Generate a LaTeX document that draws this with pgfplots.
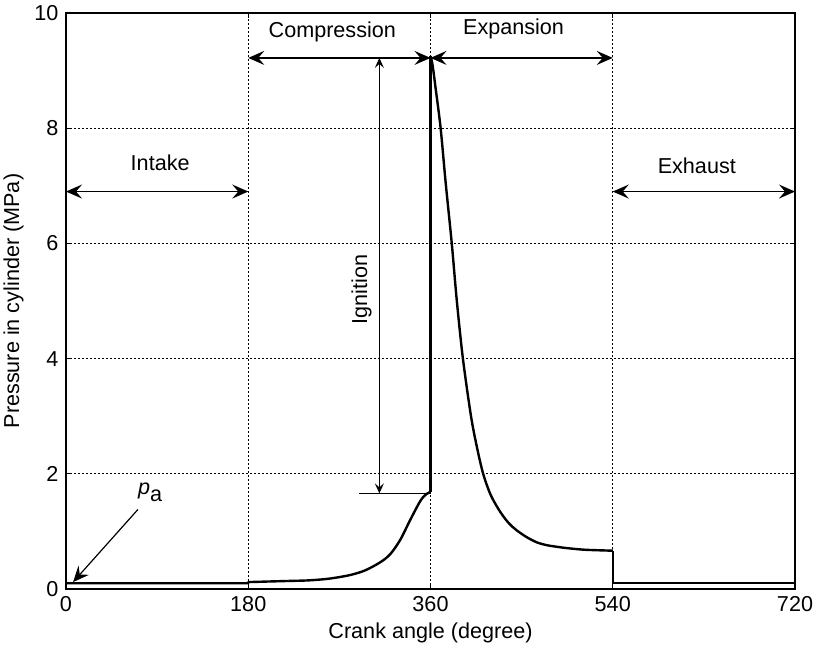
\documentclass[border=0pt]{standalone}
\usepackage{fontspec}
\setmainfont{Liberation Sans}
\usepackage{pgfplots}
\pgfplotsset{compat=1.18}
\usetikzlibrary{arrows.meta}
\newcommand\myfont{\fontsize{10.8}{13}\selectfont}
\begin{document}
\myfont
\begin{tikzpicture}
\begin{axis}[
  width=364.5pt, height=288pt, scale only axis,
  xmin=0, xmax=720, ymin=0, ymax=10,
  xtick={0,180,360,540,720}, ytick={0,2,4,6,8,10},
  grid=major,
  grid style={black, line width=0.4pt, dash pattern=on 1pt off 1pt},
  tick align=inside, major tick length=2.5pt,
  axis line style={line width=0.8pt},
  every tick/.style={black, line width=0.6pt},
  clip=false,
  /pgf/number format/assume math mode=true,
  tick label style={font=\myfont},
  label style={font=\myfont},
  xlabel={Crank angle (degree)},
  ylabel={Pressure in cylinder (MPa)},
  xlabel style={yshift=2pt},
  ylabel style={yshift=-2pt},
]
\addplot[black, line width=1.2pt, line join=round] coordinates {
(0,0.1)(180,0.1)(180,0.12)(220,0.14)
};
\addplot[black, line width=1.2pt, smooth, tension=0.5] coordinates {
(220,0.14)(240,0.15)(260,0.18)(280,0.24)(295,0.32)
(310,0.46)(320,0.6)(330,0.85)(340,1.2)(350,1.53)(356,1.65)(360,1.68)
};
\addplot[black, line width=1.2pt, line join=round] coordinates {
(360,1.68)(360,9.25)
};
\addplot[black, line width=1.2pt, smooth, tension=0.5] coordinates {
(360,9.25)(362,9.1)(365,8.7)(370,8.0)(375,7.05)(381,6.0)(386,5.0)(392,4.0)
(400,3.0)(406,2.45)(412,2.0)(419,1.65)(426,1.42)(432,1.26)(438,1.13)(445,1.02)
(455,0.9)(465,0.81)(475,0.76)(490,0.72)(500,0.70)(514,0.68)(540,0.665)
};
\addplot[black, line width=1.2pt, line join=round] coordinates {
(540,0.665)(540,0.1)(720,0.1)
};
\tikzset{bigarr/.style={line width=0.75pt, {Stealth[length=8pt,width=7pt,inset=3pt]}-{Stealth[length=8pt,width=7pt,inset=3pt]}},
         smallarr/.style={line width=0.5pt, {Stealth[length=5pt,width=4.5pt,inset=2pt]}-{Stealth[length=5pt,width=4.5pt,inset=2pt]}}}
\draw[bigarr] (axis cs:0,6.9) -- (axis cs:180,6.9);
\draw[bigarr] (axis cs:540,6.9) -- (axis cs:720,6.9);
\draw[bigarr] (axis cs:180,9.22) -- (axis cs:360,9.22);
\draw[bigarr] (axis cs:360,9.22) -- (axis cs:540,9.22);
\node[font=\myfont] at (axis cs:93,7.4) {Intake};
\node[font=\myfont] at (axis cs:623,7.35) {Exhaust};
\node[font=\myfont] at (axis cs:263,9.67) {Compression};
\node[font=\myfont] at (axis cs:442,9.72) {Expansion};
\draw[smallarr] (axis cs:309.5,9.22) -- (axis cs:309.5,1.66);
\draw[line width=0.5pt] (axis cs:289.5,1.66) -- (axis cs:360,1.66);
\node[font=\myfont, rotate=90] at (axis cs:292,5.2) {Ignition};
\draw[line width=0.6pt, -{Stealth[length=8pt,width=7pt,inset=3pt]}] (axis cs:71,1.38) -- (axis cs:7,0.12);
\node[font=\myfont] at (axis cs:83,1.68) {\textit{p}\raisebox{-0.6ex}{a}};
\end{axis}
\pgfresetboundingbox
\path ([shift={(-33pt,-28pt)}]current axis.south west) rectangle ([shift={(10pt,6.5pt)}]current axis.north east);
\end{tikzpicture}
\end{document}
